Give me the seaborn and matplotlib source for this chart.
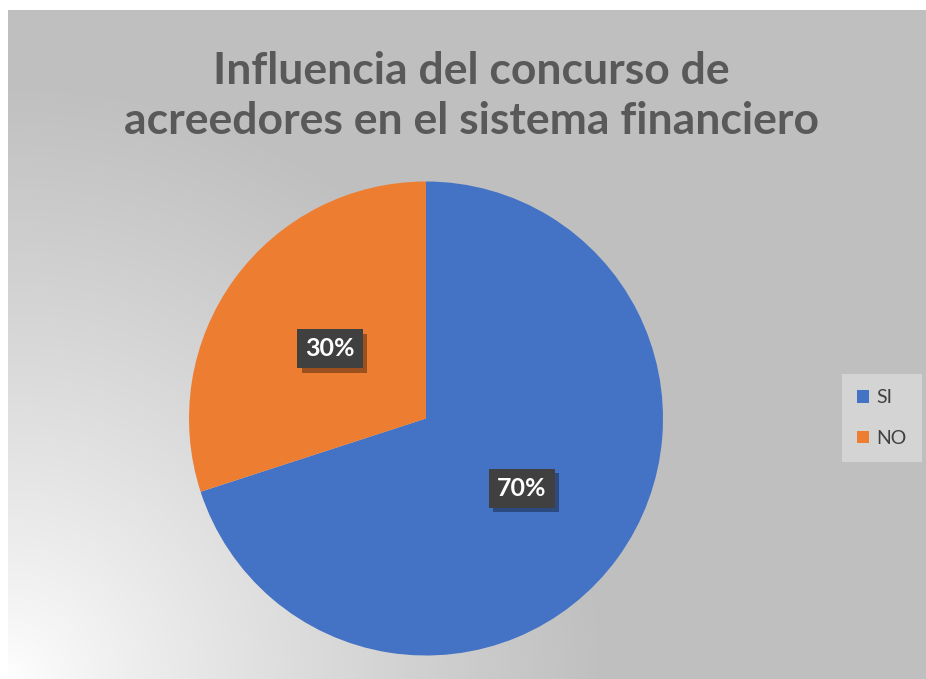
import numpy as np
import matplotlib
matplotlib.use("Agg")
import matplotlib.pyplot as plt
import matplotlib.patheffects as pe
import seaborn as sns

title = "Influencia del concurso de\nacreedores en el sistema financiero"
labels = ["SI", "NO"]
values = [70, 30]

sns.set_style("white")
plt.rcParams["font.family"] = ["Lato", "DejaVu Sans"]
colors = ["#4472C4", "#ED7D31"]

W, H = 926, 679
fig = plt.figure(figsize=(W / 100, H / 100), dpi=100)
fig.patch.set_facecolor("white")

# chart area background with radial gradient (white bottom-left -> gray)
x0, y0 = 8, 10
bg = fig.add_axes([x0 / W, 0, (W - x0) / W, (H - y0) / H])
bw, bh = W - x0, H - y0
xx, yy = np.meshgrid(np.arange(bw), np.arange(bh))
d = np.hypot(xx - 0, yy - bh)
t = np.clip(d / 600.0, 0, 1) ** 0.85
gray = 191 / 255
img = (1 - t) * 1.0 + t * gray
bg.imshow(np.dstack([img, img, img]), aspect="auto", extent=[0, bw, bh, 0])
bg.set_axis_off()

# pie
cx, cy, r = 426, 418.5, 237
ax = fig.add_axes([(cx - r) / W, (H - cy - r) / H, 2 * r / W, 2 * r / H])
ax.set_facecolor("none")
wedges, texts, autotexts = ax.pie(
    values, colors=colors, startangle=90, counterclock=False,
    autopct=lambda p: f"{p:.0f}%", pctdistance=0.5,
    wedgeprops=dict(linewidth=0),
    textprops=dict(color="white", fontsize=18, fontweight="bold"),
)
ax.set_xlim(-1, 1)
ax.set_ylim(-1, 1)
ax.set_aspect("equal")
ax.set_axis_off()
for at in autotexts:
    at.set_bbox(dict(boxstyle="square,pad=0.32", facecolor="#404040", edgecolor="none"))
    at.get_bbox_patch().set_path_effects([
        pe.SimplePatchShadow(offset=(3, -3), shadow_rgbFace="black", alpha=0.35),
        pe.Normal(),
    ])

# title
fig.text(471 / W, 1 - 96 / H, title, ha="center", va="center",
         fontsize=32, fontweight="bold", color="#595959", linespacing=1.3)

# legend
leg = fig.legend(wedges, labels, loc="center", bbox_to_anchor=(882 / W, 1 - 418 / H),
                 frameon=True, fancybox=False, fontsize=14, handlelength=0.6,
                 handleheight=0.6, labelspacing=1.2, borderpad=0.8, handletextpad=0.4,
                 labelcolor="#404040")
leg.get_frame().set_facecolor("#D4D4D4")
leg.get_frame().set_edgecolor("none")
leg.get_frame().set_alpha(1)

fig.savefig("out.png", dpi=100, facecolor="white")
